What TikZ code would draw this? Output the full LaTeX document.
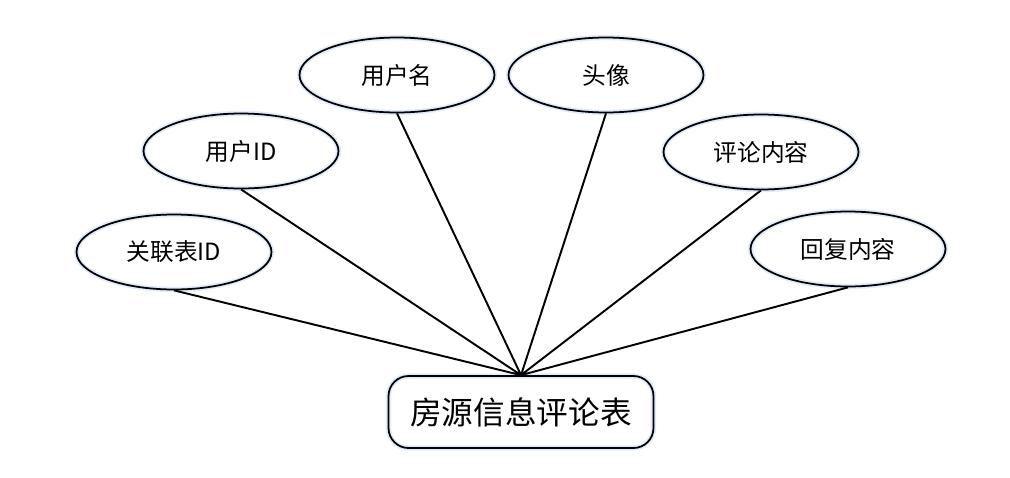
\documentclass[tikz,border=0pt]{standalone}
\usepackage{fontspec}
\setmainfont{Noto Sans CJK SC}
\usetikzlibrary{positioning, shapes.geometric}
\definecolor{glowblue}{RGB}{225,235,250}

\begin{document}
\begin{tikzpicture}[x=0.02cm, y=-0.02cm,
            attr/.style={ellipse, draw, line width=1pt, minimum width=3.9cm, minimum height=1.5cm,
              font=\fontsize{13.5}{15}\selectfont, inner sep=0pt},
            entity/.style={rectangle, rounded corners=0.4cm, draw, line width=1pt,
              minimum width=5.3cm, minimum height=1.44cm, font=\fontsize{18}{20}\selectfont},
            glow/.style={preaction={draw=glowblue, line width=3pt}}]
          \useasboundingbox (0,0) rectangle (1010,477);
          % Entidad
          \node[entity, glow] (tabla) at (521,412) {房源信息评论表};
          % Atributos
          \node[attr, glow] (nombre) at (397,75) {用户名};
          \node[attr, glow] (avatar) at (606,75) {头像};
          \node[attr, glow] (usuario) at (241,151) {用户ID};
          \node[attr, glow] (comentario) at (761,152) {评论内容};
          \node[attr, glow] (relacion) at (174,252) {关联表ID};
          \node[attr, glow] (respuesta) at (848,249) {回复内容};
          \path[draw, line width=1.1pt] (relacion.south) -- (tabla.north)
                (usuario.south) -- (tabla.north)
                (nombre.south) -- (tabla.north)
                (avatar.south) -- (tabla.north)
                (comentario.south) -- (tabla.north)
                (respuesta.south) -- (tabla.north);
        \end{tikzpicture}
\end{document}
